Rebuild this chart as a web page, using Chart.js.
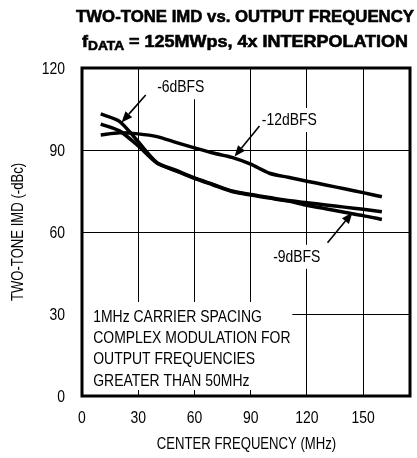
<!DOCTYPE html>
<html>
<head>
<meta charset="utf-8">
<script src="https://cdn.jsdelivr.net/npm/chart.js@4.4.0/dist/chart.umd.min.js"></script>
<style>
  html, body { margin: 0; padding: 0; background: #fff; }
</style>
</head>
<body>
<canvas id="imdChart" width="417" height="458"></canvas>
<script>
const freqMHz = [10, 20, 30, 40, 50, 60, 70, 80, 90, 100, 110, 120, 130, 140, 150, 160];
const imd6dBFS = [103.2, 100.5, 93.0, 85.4, 82.6, 79.8, 77.4, 75.0, 73.7, 72.6, 71.5, 70.7, 69.9, 69.1, 68.3, 67.4];
const imd9dBFS = [99.5, 97.0, 91.5, 85.2, 82.4, 79.6, 77.2, 74.8, 73.5, 72.4, 71.3, 69.8, 68.5, 67.2, 66.0, 64.6];
const imd12dBFS = [95.5, 96.3, 95.9, 94.9, 92.8, 90.8, 88.9, 87.3, 84.8, 81.5, 80.0, 78.6, 77.2, 75.8, 74.4, 72.9];
const xTicks = [0, 30, 60, 90, 120, 150];
const yTicks = [0, 30, 60, 90, 120];
const noteLines = ['1MHz CARRIER SPACING', 'COMPLEX MODULATION FOR', 'OUTPUT FREQUENCIES', 'GREATER THAN 50MHz'];

const FONT = "'Liberation Sans', Arial, sans-serif";
const SQUEEZE = 0.82; // narrow look, like the datasheet font

function toPoints(ys) {
  return freqMHz.map((f, i) => ({ x: f, y: ys[i] }));
}

function curve(label, ys) {
  return {
    label: label,
    data: toPoints(ys),
    borderColor: '#000',
    borderWidth: 3.5,
    pointRadius: 0,
    tension: 0.25,
    fill: false
  };
}

// labels and arrows, placed in data units
const callouts = [
  { text: '-6dBFS', at: [52.7, 113], tail: [34, 110.1], tip: [21.1, 100.1], clearTop: true },
  { text: '-12dBFS', at: [110.6, 101], tail: [94.7, 98.8], tip: [81.4, 87.6] },
  { text: '-9dBFS', at: [114.6, 50.9], tail: [131, 56.1], tip: [144.3, 67.1] }
];

// draw narrow text; align: 'left' | 'center' | 'right'
function narrow(ctx, text, x, y, size, align, rot) {
  ctx.save();
  ctx.font = size + 'px ' + FONT;
  const w = ctx.measureText(text).width * SQUEEZE;
  ctx.translate(x, y);
  if (rot) ctx.rotate(rot);
  let dx = 0;
  if (align === 'center') dx = -w / 2;
  else if (align === 'right') dx = -w;
  ctx.translate(dx, 0);
  ctx.scale(SQUEEZE, 1);
  ctx.fillStyle = '#000';
  ctx.textAlign = 'left';
  ctx.textBaseline = 'middle';
  ctx.fillText(text, 0, 0);
  ctx.restore();
  return w;
}

function arrow(ctx, x1, y1, x2, y2) {
  const ang = Math.atan2(y2 - y1, x2 - x1);
  const len = 11, half = 4.5;
  const bx = x2 - len * Math.cos(ang), by = y2 - len * Math.sin(ang);
  ctx.beginPath();
  ctx.moveTo(x1, y1);
  ctx.lineTo(bx, by);
  ctx.lineWidth = 1.6;
  ctx.strokeStyle = '#000';
  ctx.stroke();
  ctx.beginPath();
  ctx.moveTo(x2, y2);
  ctx.lineTo(bx + half * Math.sin(ang), by - half * Math.cos(ang));
  ctx.lineTo(bx - half * Math.sin(ang), by + half * Math.cos(ang));
  ctx.closePath();
  ctx.fillStyle = '#000';
  ctx.fill();
}

function fitLine(ctx, parts, cx, baseline, targetW) {
  let total = 0;
  parts.forEach(p => {
    ctx.font = 'bold ' + p.size + 'px ' + FONT;
    p.w = ctx.measureText(p.t).width;
    total += p.w;
  });
  const s = targetW / total;
  ctx.save();
  ctx.translate(cx - targetW / 2, baseline);
  ctx.scale(s, 1);
  ctx.fillStyle = '#000';
  ctx.strokeStyle = '#000';
  ctx.lineWidth = 0.6;
  ctx.textAlign = 'left';
  ctx.textBaseline = 'alphabetic';
  let x = 0;
  parts.forEach(p => {
    ctx.font = 'bold ' + p.size + 'px ' + FONT;
    ctx.fillText(p.t, x, p.dy || 0);
    ctx.strokeText(p.t, x, p.dy || 0);
    x += p.w;
  });
  ctx.restore();
}

const decor = {
  id: 'decor',
  beforeDatasetsDraw(chart) {
    const { ctx, scales: { x, y }, chartArea } = chart;
    ctx.save();
    ctx.fillStyle = '#fff';
    // blank area behind the note
    ctx.fillRect(chartArea.left, y.getPixelForValue(34.4), x.getPixelForValue(112.2) - chartArea.left, y.getPixelForValue(2.2) - y.getPixelForValue(34.4));
    ctx.font = '17px ' + FONT;
    callouts.forEach(c => {
      const w = ctx.measureText(c.text).width * SQUEEZE;
      const cx = x.getPixelForValue(c.at[0]), cy = y.getPixelForValue(c.at[1]);
      const top = c.clearTop ? chartArea.top : cy - 12;
      ctx.fillRect(cx - w / 2 - 4, top, w + 8, cy + 12 - top);
    });
    ctx.restore();
  },
  afterDatasetsDraw(chart) {
    const { ctx, scales: { x, y }, chartArea } = chart;
    ctx.save();
    callouts.forEach(c => {
      narrow(ctx, c.text, x.getPixelForValue(c.at[0]), y.getPixelForValue(c.at[1]), 17, 'center');
      arrow(ctx, x.getPixelForValue(c.tail[0]), y.getPixelForValue(c.tail[1]),
        x.getPixelForValue(c.tip[0]), y.getPixelForValue(c.tip[1]));
    });
    const nx = x.getPixelForValue(6);
    noteLines.forEach((t, i) => {
      narrow(ctx, t, nx, 317 + i * 21.3, 17, 'left');
    });
    // heavy frame
    ctx.lineWidth = 3;
    ctx.strokeStyle = '#000';
    ctx.strokeRect(chartArea.left, chartArea.top, chartArea.right - chartArea.left, chartArea.bottom - chartArea.top);
    ctx.restore();
  },
  afterDraw(chart) {
    const { ctx, scales: { x, y }, chartArea } = chart;
    // tick labels from the scales' own ticks
    x.ticks.forEach(t => narrow(ctx, String(t.value), x.getPixelForValue(t.value), 418, 17, 'center'));
    y.ticks.forEach(t => narrow(ctx, String(t.value), 65, y.getPixelForValue(t.value) + 1, 17, 'right'));
    // axis titles
    narrow(ctx, 'CENTER FREQUENCY (MHz)', (chartArea.left + chartArea.right) / 2 + 0.5, 445, 16, 'center');
    narrow(ctx, 'TWO-TONE IMD (-dBc)', 19, (chartArea.top + chartArea.bottom) / 2, 16, 'center', -Math.PI / 2);
    // chart title
    fitLine(ctx, [{ t: 'TWO-TONE IMD vs. OUTPUT FREQUENCY', size: 17 }], 245, 22, 338);
    fitLine(ctx, [
      { t: 'f', size: 17 },
      { t: 'DATA', size: 13, dy: 3 },
      { t: ' = 125MWps, 4x INTERPOLATION', size: 17 }
    ], 245, 47, 326);
  }
};

new Chart(document.getElementById('imdChart').getContext('2d'), {
  type: 'line',
  data: {
    datasets: [curve('-6dBFS', imd6dBFS), curve('-9dBFS', imd9dBFS), curve('-12dBFS', imd12dBFS)]
  },
  options: {
    responsive: false,
    animation: false,
    layout: { padding: { top: 68, right: 7, left: 0, bottom: 0 } },
    plugins: {
      legend: { display: false },
      tooltip: { enabled: false }
    },
    scales: {
      x: {
        type: 'linear',
        min: 0,
        max: 175,
        afterBuildTicks: s => { s.ticks = xTicks.map(v => ({ value: v })); },
        afterFit: s => { s.height = 62; },
        grid: { color: '#000', lineWidth: 1, drawTicks: false },
        border: { display: false },
        ticks: { display: false }
      },
      y: {
        min: 0,
        max: 120,
        afterBuildTicks: s => { s.ticks = yTicks.map(v => ({ value: v })); },
        afterFit: s => { s.width = 82; },
        grid: { color: '#000', lineWidth: 1, drawTicks: false },
        border: { display: false },
        ticks: { display: false }
      }
    }
  },
  plugins: [decor]
});
</script>
</body>
</html>
